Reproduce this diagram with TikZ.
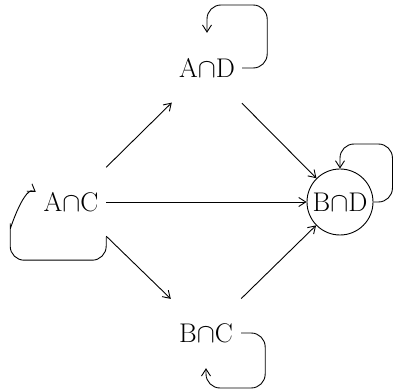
\documentclass[tikz,border=0pt]{standalone}
\usepackage{fix-cm}
\usepackage{fontspec}
\usetikzlibrary{arrows.meta}
\begin{document}
\begin{tikzpicture}[x=1pt,y=-1pt,
                    set/.style={minimum width=70pt,minimum height=70pt,inner sep=0pt,font=\fontsize{27}{30}\selectfont},
                    arr/.style={-{Straight Barb[length=7pt,width=9pt]},line width=0.9pt}]
                    \useasboundingbox (0,0) rectangle (394,390);
                    \node[set] (ac) at (71,202) {A$\cap$C};
                    \node[set] (ad) at (207,68) {A$\cap$D};
                    \node[set] (bc) at (206,333) {B$\cap$C};
                    \node[set,circle,draw,line width=0.9pt,minimum size=66pt] (bd) at (340,202) {B$\cap$D};
                    \draw [arr] (ac) -- (ad);
                    \draw [arr] (ac) -- (bd);
                    \draw [arr] (ac) -- (bc);
                    \draw [arr] (ad) -- (bd);
                    \draw [arr] (bc) -- (bd);
                    \draw [arr,rounded corners=14] (ad.east) -| ++(25,-63) -| (ad.north);
                    \draw [arr,rounded corners=14] (bc.east) -| ++(24,55) -| (bc.south);
                    \draw [arr,rounded corners=14] (bd.east) -| ++(19,-58) -| (bd.north);
                    \draw [arr] (ac.south east) [rounded corners=14] |- ++(-96,23) -- ++(0,-45)
                          [sharp corners] to[out=-90,in=145] ([yshift=10pt]ac.west);
                \end{tikzpicture}
\end{document}
